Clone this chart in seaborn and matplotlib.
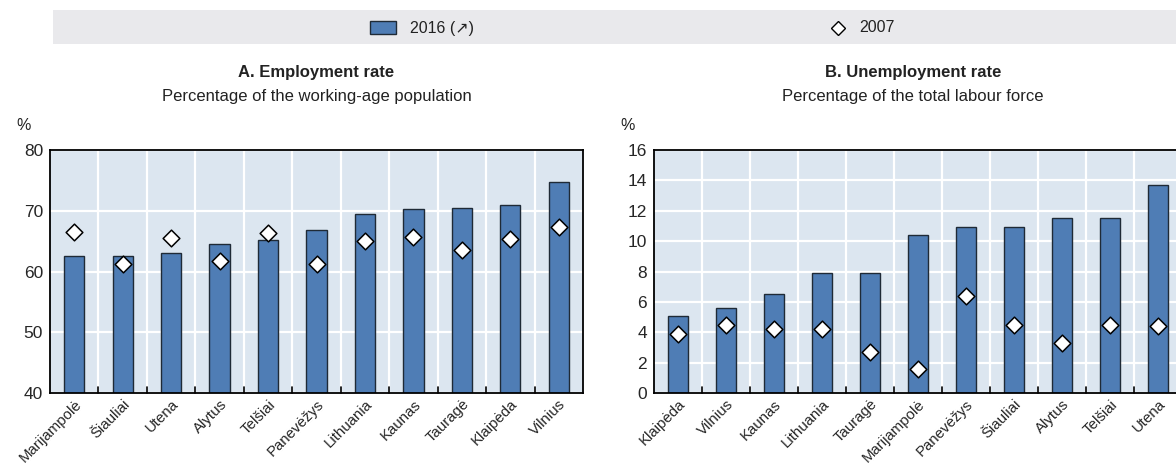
import matplotlib
matplotlib.use("Agg")
import matplotlib.pyplot as plt
from matplotlib.patches import Rectangle
from matplotlib.lines import Line2D
import seaborn as sns

# Panel A: employment rate (% of working-age population)
emp_regions = ["Marijampolė", "Šiauliai", "Utena", "Alytus", "Telšiai", "Panevėžys",
               "Lithuania", "Kaunas", "Tauragė", "Klaipėda", "Vilnius"]
emp_2016 = [62.6, 62.6, 63.1, 64.5, 65.2, 66.9, 69.5, 70.3, 70.4, 70.9, 74.7]
emp_2007 = [66.5, 61.3, 65.5, 61.7, 66.4, 61.3, 65.0, 65.7, 63.5, 65.4, 67.3]

# Panel B: unemployment rate (% of total labour force)
unemp_regions = ["Klaipėda", "Vilnius", "Kaunas", "Lithuania", "Tauragė", "Marijampolė",
                 "Panevėžys", "Šiauliai", "Alytus", "Telšiai", "Utena"]
unemp_2016 = [5.05, 5.6, 6.5, 7.9, 7.9, 10.4, 10.9, 10.9, 11.5, 11.5, 13.7]
unemp_2007 = [3.9, 4.5, 4.2, 4.2, 2.7, 1.6, 6.4, 4.5, 3.3, 4.5, 4.4]

BAR = "#4F7DB5"
EDGE = "#1F2A36"
PANEL_BG = "#DCE6F0"
LEGEND_BG = "#E9E9EC"
TEXT = "#222222"
FONTS = ["Liberation Sans", "DejaVu Sans"]

sns.set_theme(style="white")
plt.rcParams["font.family"] = FONTS
plt.rcParams["text.color"] = TEXT

fig = plt.figure(figsize=(11.76, 4.68), dpi=100)
W, H = 1176, 468


def px_axes(x0, y0, x1, y1):
    return fig.add_axes([x0 / W, 1 - y1 / H, (x1 - x0) / W, (y1 - y0) / H])


ax_a = px_axes(50, 150, 583, 393)
ax_b = px_axes(654, 150, 1182, 393)


def draw_panel(ax, cats, v_new, v_old, ylim, yticks):
    ax.set_facecolor(PANEL_BG)
    sns.barplot(x=cats, y=v_new, ax=ax, color=BAR, edgecolor=EDGE, linewidth=1.0,
                width=0.42, saturation=1, zorder=3)
    sns.stripplot(x=cats, y=v_old, ax=ax, jitter=False, marker="D", size=8.5,
                  color="white", edgecolor="black", linewidth=1.1, zorder=4)
    n = len(cats)
    ax.set_xlim(-0.5, n - 0.5)
    ax.set_ylim(*ylim)
    ax.set_yticks(yticks)
    ax.set_yticklabels([str(t) for t in yticks], fontsize=12.5)
    ax.set_xticks(range(n))
    ax.set_xticklabels(cats, rotation=45, ha="right", rotation_mode="anchor", fontsize=10.8)
    ax.set_xticks([i + 0.5 for i in range(n - 1)], minor=True)
    ax.tick_params(axis="x", which="major", length=0, pad=3)
    ax.tick_params(axis="x", which="minor", length=0)
    ax.tick_params(axis="y", length=0, pad=5)
    ax.grid(True, axis="y", which="major", color="white", linewidth=1.6)
    ax.grid(True, axis="x", which="minor", color="white", linewidth=1.6)
    ax.set_axisbelow(True)
    for s in ax.spines.values():
        s.set_visible(True)
        s.set_color("black")
        s.set_linewidth(1.3)
        s.set_zorder(6)
    ax.set_xlabel("")
    ax.set_ylabel("")
    ax.text(-0.05, 1.07, "%", transform=ax.transAxes, fontsize=11.5, ha="center", va="bottom")
    # short inward ticks at category boundaries, drawn above the white grid
    for i in range(n - 1):
        ax.plot([i + 0.5, i + 0.5], [0, 0.025], transform=ax.get_xaxis_transform(),
                color="black", linewidth=1.2, zorder=6, clip_on=False)
    return ax


draw_panel(ax_a, emp_regions, emp_2016, emp_2007, (40, 80), [40, 50, 60, 70, 80])
draw_panel(ax_b, unemp_regions, unemp_2016, unemp_2007, (0, 16), list(range(0, 17, 2)))

# Panel titles
fig.text((50 + 583) / 2 / W, 1 - 72 / H, "A. Employment rate", ha="center", va="center",
         fontsize=12, fontweight="bold")
fig.text((50 + 583) / 2 / W, 1 - 97 / H, "Percentage of the working-age population",
         ha="center", va="center", fontsize=12)
fig.text(913 / W, 1 - 72 / H, "B. Unemployment rate", ha="center", va="center",
         fontsize=12, fontweight="bold")
fig.text(913 / W, 1 - 97 / H, "Percentage of the total labour force",
         ha="center", va="center", fontsize=12)

# Legend band
fig.patches.append(Rectangle((53 / W, 1 - 44 / H), (W - 53) / W, 34 / H,
                             transform=fig.transFigure, facecolor=LEGEND_BG,
                             edgecolor="none", zorder=0))
fig.patches.append(Rectangle((370 / W, 1 - 34 / H), 26 / W, 13 / H,
                             transform=fig.transFigure, facecolor=BAR,
                             edgecolor=EDGE, linewidth=1.0, zorder=2))
fig.text(410 / W, 1 - 28 / H, "2016 (↗)", ha="left", va="center", fontsize=11.5,
         family=FONTS)
fig.lines.append(Line2D([838 / W], [1 - 28 / H], transform=fig.transFigure, marker="D",
                        markersize=7.5, markerfacecolor="white", markeredgecolor="black",
                        markeredgewidth=1.0, linestyle="none"))
fig.text(859 / W, 1 - 28 / H, "2007", ha="left", va="center", fontsize=11.5)

fig.savefig("out.png", dpi=100)
